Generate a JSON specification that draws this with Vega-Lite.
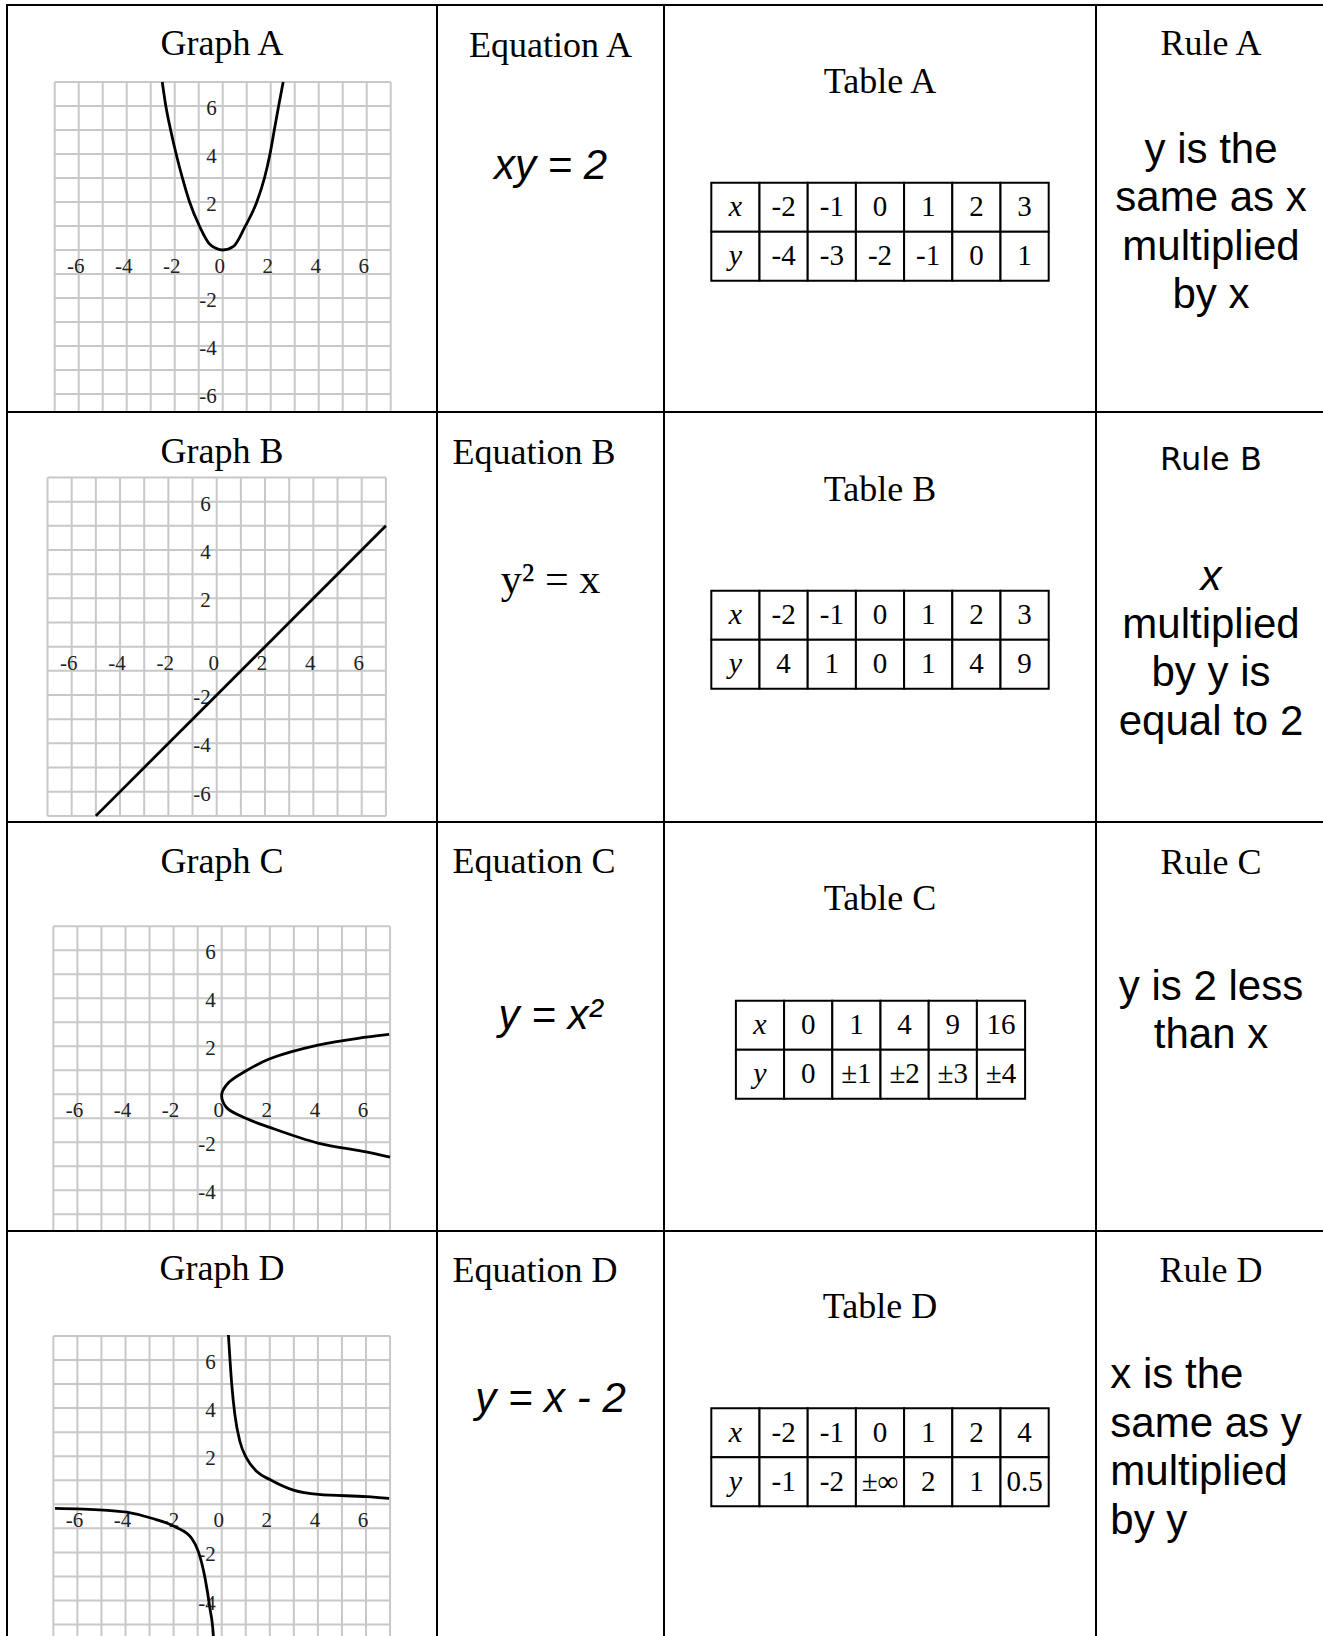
{
  "$schema": "https://vega.github.io/schema/vega-lite/v6.json",
  "usermeta": {"embedOptions": {"actions": false}},
  "background": "white",
  "padding": {"left": 6, "top": 4, "right": -4, "bottom": -6},
  "columns": 4,
  "spacing": 0,
  "bounds": "flush",
  "datasets": {
    "grid": [{"g":-7},{"g":-6},{"g":-5},{"g":-4},{"g":-3},{"g":-2},{"g":-1},{"g":0},{"g":1},{"g":2},{"g":3},{"g":4},{"g":5},{"g":6},{"g":7}],
    "xlab": [{"v":-6},{"v":-4},{"v":-2},{"v":0},{"v":2},{"v":4},{"v":6}],
    "ylab": [{"v":-6},{"v":-4},{"v":-2},{"v":2},{"v":4},{"v":6}],
    "ylabShort": [{"v":-4},{"v":-2},{"v":2},{"v":4},{"v":6}]
  },
  "concat": [
    {
      "width": 430, "height": 407,
      "title": {"text": "Graph A", "offset": -58},
      "layer": [
        {"data": {"name": "grid"}, "mark": {"type": "rule", "color": "#c8c8c8", "strokeWidth": 2, "clip": true},
         "encoding": {"x": {"field": "g", "type": "quantitative", "scale": {"domain": [-8.988, 8.929], "nice": false, "zero": false}},
                      "y": {"datum": -7, "type": "quantitative", "scale": {"domain": [-6.75, 10.208], "nice": false, "zero": false}},
                      "y2": {"datum": 7}}},
        {"data": {"name": "grid"}, "mark": {"type": "rule", "color": "#c8c8c8", "strokeWidth": 2, "clip": true},
         "encoding": {"y": {"field": "g", "type": "quantitative", "scale": {"domain": [-6.75, 10.208], "nice": false, "zero": false}},
                      "x": {"datum": -7, "type": "quantitative", "scale": {"domain": [-8.988, 8.929], "nice": false, "zero": false}},
                      "x2": {"datum": 7}}},
        {"data": {"name": "xlab"}, "mark": {"type": "text", "font": "Liberation Serif", "fontSize": 21, "color": "#222", "baseline": "middle", "dx": -3, "dy": 17, "clip": true},
         "encoding": {"x": {"field": "v", "type": "quantitative", "scale": {"domain": [-8.988, 8.929], "nice": false, "zero": false}},
                      "y": {"datum": 0, "type": "quantitative", "scale": {"domain": [-6.75, 10.208], "nice": false, "zero": false}},
                      "text": {"field": "v", "type": "nominal"}}},
        {"data": {"name": "ylab"}, "mark": {"type": "text", "font": "Liberation Serif", "fontSize": 21, "color": "#222", "baseline": "middle", "align": "right", "dx": -6, "dy": 3, "clip": true},
         "encoding": {"y": {"field": "v", "type": "quantitative", "scale": {"domain": [-6.75, 10.208], "nice": false, "zero": false}},
                      "x": {"datum": 0, "type": "quantitative", "scale": {"domain": [-8.988, 8.929], "nice": false, "zero": false}},
                      "text": {"field": "v", "type": "nominal"}}},
        {"data": {"values": [{"x":-2.52,"y":7.0},{"x":-2.37,"y":6.0},{"x":-2.17,"y":5.0},{"x":-1.94,"y":4.0},{"x":-1.68,"y":3.0},{"x":-1.38,"y":2.0},{"x":-0.97,"y":1.0},{"x":-0.5,"y":0.2},{"x":0,"y":0},{"x":0.45,"y":0.15},{"x":0.93,"y":0.97},{"x":1.42,"y":2.0},{"x":1.74,"y":3.0},{"x":1.97,"y":4.0},{"x":2.15,"y":5.0},{"x":2.33,"y":6.0},{"x":2.52,"y":7.0}]},
         "mark": {"type": "line", "color": "#000", "strokeWidth": 2.8, "interpolate": "monotone", "clip": true},
         "encoding": {"x": {"field": "x", "type": "quantitative", "scale": {"domain": [-8.988, 8.929], "nice": false, "zero": false}},
                      "y": {"field": "y", "type": "quantitative", "scale": {"domain": [-6.75, 10.208], "nice": false, "zero": false}}}}
      ]
    },
    {
      "width": 227, "height": 407,
      "title": {"text": "Equation A", "offset": -60.4},
      "data": {"values": [{"line": 1, "t": "xy = 2"}]},
      "mark": {"type": "text", "font": "Liberation Sans", "fontSize": 42, "fontStyle": "italic", "baseline": "alphabetic", "color": "#000"},
      "encoding": {"y": {"field": "line", "type": "quantitative", "scale": {"domain": [-2.605, 5.804], "reverse": true, "nice": false, "zero": false}},
                   "text": {"field": "t", "type": "nominal"}}
    },
    {
      "width": 432, "height": 407,
      "title": {"text": "Table A", "offset": -95.7},
      "data": {"values": [
        {"r":"x","c":0,"v":"x"},{"r":"x","c":1,"v":"-2"},{"r":"x","c":2,"v":"-1"},{"r":"x","c":3,"v":"0"},{"r":"x","c":4,"v":"1"},{"r":"x","c":5,"v":"2"},{"r":"x","c":6,"v":"3"},
        {"r":"y","c":0,"v":"y"},{"r":"y","c":1,"v":"-4"},{"r":"y","c":2,"v":"-3"},{"r":"y","c":3,"v":"-2"},{"r":"y","c":4,"v":"-1"},{"r":"y","c":5,"v":"0"},{"r":"y","c":6,"v":"1"}]},
      "encoding": {
        "x": {"field": "c", "type": "ordinal", "scale": {"type": "band", "domain": [0,1,2,3,4,5,6], "paddingInner": 0, "paddingOuter": 0, "range": [47.3, 384.7]}},
        "y": {"field": "r", "type": "ordinal", "scale": {"type": "band", "domain": ["x","y"], "paddingInner": 0, "paddingOuter": 0, "range": [177.7, 275.7]}}
      },
      "layer": [
        {"mark": {"type": "rect", "fill": "white", "stroke": "#000", "strokeWidth": 2}},
        {"transform": [{"filter": "datum.c == 0"}], "mark": {"type": "text", "font": "Liberation Serif", "fontSize": 30, "fontStyle": "italic", "baseline": "middle", "color": "#000"}, "encoding": {"text": {"field": "v", "type": "nominal"}}},
        {"transform": [{"filter": "datum.c > 0"}], "mark": {"type": "text", "font": "Liberation Serif", "fontSize": 29, "baseline": "middle", "color": "#000"}, "encoding": {"text": {"field": "v", "type": "nominal"}}}
      ]
    },
    {
      "width": 230, "height": 407,
      "title": {"text": "Rule A", "offset": -58},
      "data": {"values": [{"line":1,"t":"y is the"},{"line":2,"t":"same as x"},{"line":3,"t":"multiplied"},{"line":4,"t":"by x"}]},
      "mark": {"type": "text", "font": "Liberation Sans", "fontSize": 42, "baseline": "alphabetic", "color": "#000"},
      "encoding": {"y": {"field": "line", "type": "quantitative", "scale": {"domain": [-2.264, 6.145], "reverse": true, "nice": false, "zero": false}},
                   "text": {"field": "t", "type": "nominal"}}
    },
    {
      "width": 430, "height": 410,
      "title": {"text": "Graph B", "offset": -59},
      "layer": [
        {"data": {"name": "grid"}, "mark": {"type": "rule", "color": "#c8c8c8", "strokeWidth": 2, "clip": true},
         "encoding": {"x": {"field": "g", "type": "quantitative", "scale": {"domain": [-8.676, 9.115], "nice": false, "zero": false}},
                      "y": {"datum": -7, "type": "quantitative", "scale": {"domain": [-7.253, 9.71], "nice": false, "zero": false}},
                      "y2": {"datum": 7}}},
        {"data": {"name": "grid"}, "mark": {"type": "rule", "color": "#c8c8c8", "strokeWidth": 2, "clip": true},
         "encoding": {"y": {"field": "g", "type": "quantitative", "scale": {"domain": [-7.253, 9.71], "nice": false, "zero": false}},
                      "x": {"datum": -7, "type": "quantitative", "scale": {"domain": [-8.676, 9.115], "nice": false, "zero": false}},
                      "x2": {"datum": 7}}},
        {"data": {"name": "xlab"}, "mark": {"type": "text", "font": "Liberation Serif", "fontSize": 21, "color": "#222", "baseline": "middle", "dx": -3, "dy": 17, "clip": true},
         "encoding": {"x": {"field": "v", "type": "quantitative", "scale": {"domain": [-8.676, 9.115], "nice": false, "zero": false}},
                      "y": {"datum": 0, "type": "quantitative", "scale": {"domain": [-7.253, 9.71], "nice": false, "zero": false}},
                      "text": {"field": "v", "type": "nominal"}}},
        {"data": {"name": "ylab"}, "mark": {"type": "text", "font": "Liberation Serif", "fontSize": 21, "color": "#222", "baseline": "middle", "align": "right", "dx": -6, "dy": 3, "clip": true},
         "encoding": {"y": {"field": "v", "type": "quantitative", "scale": {"domain": [-7.253, 9.71], "nice": false, "zero": false}},
                      "x": {"datum": 0, "type": "quantitative", "scale": {"domain": [-8.676, 9.115], "nice": false, "zero": false}},
                      "text": {"field": "v", "type": "nominal"}}},
        {"data": {"values": [{"x":-5,"y":-7},{"x":7,"y":5}]},
         "mark": {"type": "line", "color": "#000", "strokeWidth": 2.8, "clip": true},
         "encoding": {"x": {"field": "x", "type": "quantitative", "scale": {"domain": [-8.676, 9.115], "nice": false, "zero": false}},
                      "y": {"field": "y", "type": "quantitative", "scale": {"domain": [-7.253, 9.71], "nice": false, "zero": false}}}}
      ]
    },
    {
      "width": 227, "height": 410,
      "title": {"text": "Equation B", "offset": -60, "anchor": "start", "dx": 15.5},
      "data": {"values": [{"line": 1, "t": "y² = x"}]},
      "mark": {"type": "text", "font": "Liberation Serif", "fontSize": 42, "baseline": "alphabetic", "color": "#000"},
      "encoding": {"y": {"field": "line", "type": "quantitative", "scale": {"domain": [-2.74, 5.731], "reverse": true, "nice": false, "zero": false}},
                   "text": {"field": "t", "type": "nominal"}}
    },
    {
      "width": 432, "height": 410,
      "title": {"text": "Table B", "offset": -96.5},
      "data": {"values": [
        {"r":"x","c":0,"v":"x"},{"r":"x","c":1,"v":"-2"},{"r":"x","c":2,"v":"-1"},{"r":"x","c":3,"v":"0"},{"r":"x","c":4,"v":"1"},{"r":"x","c":5,"v":"2"},{"r":"x","c":6,"v":"3"},
        {"r":"y","c":0,"v":"y"},{"r":"y","c":1,"v":"4"},{"r":"y","c":2,"v":"1"},{"r":"y","c":3,"v":"0"},{"r":"y","c":4,"v":"1"},{"r":"y","c":5,"v":"4"},{"r":"y","c":6,"v":"9"}]},
      "encoding": {
        "x": {"field": "c", "type": "ordinal", "scale": {"type": "band", "domain": [0,1,2,3,4,5,6], "paddingInner": 0, "paddingOuter": 0, "range": [47.3, 384.7]}},
        "y": {"field": "r", "type": "ordinal", "scale": {"type": "band", "domain": ["x","y"], "paddingInner": 0, "paddingOuter": 0, "range": [178.7, 276.7]}}
      },
      "layer": [
        {"mark": {"type": "rect", "fill": "white", "stroke": "#000", "strokeWidth": 2}},
        {"transform": [{"filter": "datum.c == 0"}], "mark": {"type": "text", "font": "Liberation Serif", "fontSize": 30, "fontStyle": "italic", "baseline": "middle", "color": "#000"}, "encoding": {"text": {"field": "v", "type": "nominal"}}},
        {"transform": [{"filter": "datum.c > 0"}], "mark": {"type": "text", "font": "Liberation Serif", "fontSize": 29, "baseline": "middle", "color": "#000"}, "encoding": {"text": {"field": "v", "type": "nominal"}}}
      ]
    },
    {
      "width": 230, "height": 410,
      "title": {"text": "Rule B", "offset": -65, "font": "DejaVu Sans", "fontSize": 32},
      "encoding": {"y": {"field": "line", "type": "quantitative", "scale": {"domain": [-2.671, 5.8], "reverse": true, "nice": false, "zero": false}},
                   "text": {"field": "t", "type": "nominal"}},
      "layer": [
        {"data": {"values": [{"line":1,"t":"x"}]},
         "mark": {"type": "text", "font": "Liberation Sans", "fontSize": 42, "fontStyle": "italic", "baseline": "alphabetic", "color": "#000"}},
        {"data": {"values": [{"line":2,"t":"multiplied"},{"line":3,"t":"by y is"},{"line":4,"t":"equal to 2"}]},
         "mark": {"type": "text", "font": "Liberation Sans", "fontSize": 42, "baseline": "alphabetic", "color": "#000"}}
      ]
    },
    {
      "width": 430, "height": 409,
      "title": {"text": "Graph C", "offset": -59},
      "layer": [
        {"data": {"name": "grid"}, "mark": {"type": "rule", "color": "#c8c8c8", "strokeWidth": 2, "clip": true},
         "encoding": {"x": {"field": "g", "type": "quantitative", "scale": {"domain": [-8.927, 8.952], "nice": false, "zero": false}},
                      "y": {"datum": -7, "type": "quantitative", "scale": {"domain": [-5.696, 11.346], "nice": false, "zero": false}},
                      "y2": {"datum": 7}}},
        {"data": {"name": "grid"}, "mark": {"type": "rule", "color": "#c8c8c8", "strokeWidth": 2, "clip": true},
         "encoding": {"y": {"field": "g", "type": "quantitative", "scale": {"domain": [-5.696, 11.346], "nice": false, "zero": false}},
                      "x": {"datum": -7, "type": "quantitative", "scale": {"domain": [-8.927, 8.952], "nice": false, "zero": false}},
                      "x2": {"datum": 7}}},
        {"data": {"name": "xlab"}, "mark": {"type": "text", "font": "Liberation Serif", "fontSize": 21, "color": "#222", "baseline": "middle", "dx": -3, "dy": 17, "clip": true},
         "encoding": {"x": {"field": "v", "type": "quantitative", "scale": {"domain": [-8.927, 8.952], "nice": false, "zero": false}},
                      "y": {"datum": 0, "type": "quantitative", "scale": {"domain": [-5.696, 11.346], "nice": false, "zero": false}},
                      "text": {"field": "v", "type": "nominal"}}},
        {"data": {"name": "ylabShort"}, "mark": {"type": "text", "font": "Liberation Serif", "fontSize": 21, "color": "#222", "baseline": "middle", "align": "right", "dx": -6, "dy": 3, "clip": true},
         "encoding": {"y": {"field": "v", "type": "quantitative", "scale": {"domain": [-5.696, 11.346], "nice": false, "zero": false}},
                      "x": {"datum": 0, "type": "quantitative", "scale": {"domain": [-8.927, 8.952], "nice": false, "zero": false}},
                      "text": {"field": "v", "type": "nominal"}}},
        {"data": {"values": [{"x":6.96,"y":2.5},{"x":6,"y":2.38},{"x":4,"y":2.05},{"x":2,"y":1.48},{"x":1,"y":0.97},{"x":0.3,"y":0.5},{"x":0,"y":0},{"x":0.2,"y":-0.55},{"x":1,"y":-1.0},{"x":2,"y":-1.38},{"x":4,"y":-2.03},{"x":6,"y":-2.4},{"x":7,"y":-2.62}]},
         "mark": {"type": "line", "color": "#000", "strokeWidth": 2.8, "interpolate": "catmull-rom", "clip": true},
         "encoding": {"x": {"field": "x", "type": "quantitative", "scale": {"domain": [-8.927, 8.952], "nice": false, "zero": false}},
                      "y": {"field": "y", "type": "quantitative", "scale": {"domain": [-5.696, 11.346], "nice": false, "zero": false}},
                      "order": {"field": "y", "type": "quantitative"}}}
      ]
    },
    {
      "width": 227, "height": 409,
      "title": {"text": "Equation C", "offset": -59.3, "anchor": "start", "dx": 15.5},
      "data": {"values": [{"line": 1, "t": "y = x²"}]},
      "mark": {"type": "text", "font": "Liberation Sans", "fontSize": 42, "fontStyle": "italic", "baseline": "alphabetic", "color": "#000"},
      "encoding": {"y": {"field": "line", "type": "quantitative", "scale": {"domain": [-3.267, 5.183], "reverse": true, "nice": false, "zero": false}},
                   "text": {"field": "t", "type": "nominal"}}
    },
    {
      "width": 432, "height": 409,
      "title": {"text": "Table C", "offset": -95.7},
      "data": {"values": [
        {"r":"x","c":0,"v":"x"},{"r":"x","c":1,"v":"0"},{"r":"x","c":2,"v":"1"},{"r":"x","c":3,"v":"4"},{"r":"x","c":4,"v":"9"},{"r":"x","c":5,"v":"16"},
        {"r":"y","c":0,"v":"y"},{"r":"y","c":1,"v":"0"},{"r":"y","c":2,"v":"±1"},{"r":"y","c":3,"v":"±2"},{"r":"y","c":4,"v":"±3"},{"r":"y","c":5,"v":"±4"}]},
      "encoding": {
        "x": {"field": "c", "type": "ordinal", "scale": {"type": "band", "domain": [0,1,2,3,4,5], "paddingInner": 0, "paddingOuter": 0, "range": [71.9, 361.1]}},
        "y": {"field": "r", "type": "ordinal", "scale": {"type": "band", "domain": ["x","y"], "paddingInner": 0, "paddingOuter": 0, "range": [178.7, 276.7]}}
      },
      "layer": [
        {"mark": {"type": "rect", "fill": "white", "stroke": "#000", "strokeWidth": 2}},
        {"transform": [{"filter": "datum.c == 0"}], "mark": {"type": "text", "font": "Liberation Serif", "fontSize": 30, "fontStyle": "italic", "baseline": "middle", "color": "#000"}, "encoding": {"text": {"field": "v", "type": "nominal"}}},
        {"transform": [{"filter": "datum.c > 0"}], "mark": {"type": "text", "font": "Liberation Serif", "fontSize": 29, "baseline": "middle", "color": "#000"}, "encoding": {"text": {"field": "v", "type": "nominal"}}}
      ]
    },
    {
      "width": 230, "height": 409,
      "title": {"text": "Rule C", "offset": -60},
      "data": {"values": [{"line":1,"t":"y is 2 less"},{"line":2,"t":"than x"}]},
      "mark": {"type": "text", "font": "Liberation Sans", "fontSize": 42, "baseline": "alphabetic", "color": "#000"},
      "encoding": {"y": {"field": "line", "type": "quantitative", "scale": {"domain": [-2.671, 5.779], "reverse": true, "nice": false, "zero": false}},
                   "text": {"field": "t", "type": "nominal"}}
    },
    {
      "width": 430, "height": 410,
      "title": {"text": "Graph D", "offset": -57},
      "layer": [
        {"data": {"name": "grid"}, "mark": {"type": "rule", "color": "#c8c8c8", "strokeWidth": 2, "clip": true},
         "encoding": {"x": {"field": "g", "type": "quantitative", "scale": {"domain": [-8.927, 8.952], "nice": false, "zero": false}},
                      "y": {"datum": -7, "type": "quantitative", "scale": {"domain": [-5.684, 11.364], "nice": false, "zero": false}},
                      "y2": {"datum": 7}}},
        {"data": {"name": "grid"}, "mark": {"type": "rule", "color": "#c8c8c8", "strokeWidth": 2, "clip": true},
         "encoding": {"y": {"field": "g", "type": "quantitative", "scale": {"domain": [-5.684, 11.364], "nice": false, "zero": false}},
                      "x": {"datum": -7, "type": "quantitative", "scale": {"domain": [-8.927, 8.952], "nice": false, "zero": false}},
                      "x2": {"datum": 7}}},
        {"data": {"name": "xlab"}, "mark": {"type": "text", "font": "Liberation Serif", "fontSize": 21, "color": "#222", "baseline": "middle", "dx": -3, "dy": 17, "clip": true},
         "encoding": {"x": {"field": "v", "type": "quantitative", "scale": {"domain": [-8.927, 8.952], "nice": false, "zero": false}},
                      "y": {"datum": 0, "type": "quantitative", "scale": {"domain": [-5.684, 11.364], "nice": false, "zero": false}},
                      "text": {"field": "v", "type": "nominal"}}},
        {"data": {"name": "ylabShort"}, "mark": {"type": "text", "font": "Liberation Serif", "fontSize": 21, "color": "#222", "baseline": "middle", "align": "right", "dx": -6, "dy": 3, "clip": true},
         "encoding": {"y": {"field": "v", "type": "quantitative", "scale": {"domain": [-5.684, 11.364], "nice": false, "zero": false}},
                      "x": {"datum": 0, "type": "quantitative", "scale": {"domain": [-8.927, 8.952], "nice": false, "zero": false}},
                      "text": {"field": "v", "type": "nominal"}}},
        {"data": {"values": [
           {"b":"R","x":0.28,"y":7.04},{"b":"R","x":0.42,"y":4.96},{"b":"R","x":0.55,"y":3.71},{"b":"R","x":0.76,"y":2.6},{"b":"R","x":1.04,"y":1.91},{"b":"R","x":1.46,"y":1.36},{"b":"R","x":2.04,"y":1.01},{"b":"R","x":2.98,"y":0.59},{"b":"R","x":4.02,"y":0.41},{"b":"R","x":6.03,"y":0.32},{"b":"R","x":6.96,"y":0.25},
           {"b":"L","x":-6.93,"y":-0.17},{"b":"L","x":-4.92,"y":-0.24},{"b":"L","x":-3.95,"y":-0.33},{"b":"L","x":-2.91,"y":-0.58},{"b":"L","x":-1.94,"y":-0.93},{"b":"L","x":-1.25,"y":-1.41},{"b":"L","x":-0.97,"y":-1.97},{"b":"L","x":-0.69,"y":-3.08},{"b":"L","x":-0.49,"y":-4.32},{"b":"L","x":-0.35,"y":-5.43},{"b":"L","x":-0.29,"y":-6.9}]},
         "mark": {"type": "line", "color": "#000", "strokeWidth": 2.8, "interpolate": "monotone", "clip": true},
         "encoding": {"x": {"field": "x", "type": "quantitative", "scale": {"domain": [-8.927, 8.952], "nice": false, "zero": false}},
                      "y": {"field": "y", "type": "quantitative", "scale": {"domain": [-5.684, 11.364], "nice": false, "zero": false}},
                      "detail": {"field": "b", "type": "nominal"}}}
      ]
    },
    {
      "width": 227, "height": 410,
      "title": {"text": "Equation D", "offset": -58.5, "anchor": "start", "dx": 15.5},
      "data": {"values": [{"line": 1, "t": "y = x - 2"}]},
      "mark": {"type": "text", "font": "Liberation Sans", "fontSize": 42, "fontStyle": "italic", "baseline": "alphabetic", "color": "#000"},
      "encoding": {"y": {"field": "line", "type": "quantitative", "scale": {"domain": [-2.74, 5.731], "reverse": true, "nice": false, "zero": false}},
                   "text": {"field": "t", "type": "nominal"}}
    },
    {
      "width": 432, "height": 410,
      "title": {"text": "Table D", "offset": -95.3},
      "data": {"values": [
        {"r":"x","c":0,"v":"x"},{"r":"x","c":1,"v":"-2"},{"r":"x","c":2,"v":"-1"},{"r":"x","c":3,"v":"0"},{"r":"x","c":4,"v":"1"},{"r":"x","c":5,"v":"2"},{"r":"x","c":6,"v":"4"},
        {"r":"y","c":0,"v":"y"},{"r":"y","c":1,"v":"-1"},{"r":"y","c":2,"v":"-2"},{"r":"y","c":3,"v":"±∞"},{"r":"y","c":4,"v":"2"},{"r":"y","c":5,"v":"1"},{"r":"y","c":6,"v":"0.5"}]},
      "encoding": {
        "x": {"field": "c", "type": "ordinal", "scale": {"type": "band", "domain": [0,1,2,3,4,5,6], "paddingInner": 0, "paddingOuter": 0, "range": [47.3, 384.7]}},
        "y": {"field": "r", "type": "ordinal", "scale": {"type": "band", "domain": ["x","y"], "paddingInner": 0, "paddingOuter": 0, "range": [177.3, 275.3]}}
      },
      "layer": [
        {"mark": {"type": "rect", "fill": "white", "stroke": "#000", "strokeWidth": 2}},
        {"transform": [{"filter": "datum.c == 0"}], "mark": {"type": "text", "font": "Liberation Serif", "fontSize": 30, "fontStyle": "italic", "baseline": "middle", "color": "#000"}, "encoding": {"text": {"field": "v", "type": "nominal"}}},
        {"transform": [{"filter": "datum.c > 0"}], "mark": {"type": "text", "font": "Liberation Serif", "fontSize": 29, "baseline": "middle", "color": "#000"}, "encoding": {"text": {"field": "v", "type": "nominal"}}}
      ]
    },
    {
      "width": 230, "height": 410,
      "title": {"text": "Rule D", "offset": -58.7},
      "data": {"values": [{"line":1,"t":"x is the"},{"line":2,"t":"same as y"},{"line":3,"t":"multiplied"},{"line":4,"t":"by y"}]},
      "mark": {"type": "text", "font": "Liberation Sans", "fontSize": 42, "baseline": "alphabetic", "align": "left", "dx": -100.7, "color": "#000"},
      "encoding": {"y": {"field": "line", "type": "quantitative", "scale": {"domain": [-2.25, 6.221], "reverse": true, "nice": false, "zero": false}},
                   "text": {"field": "t", "type": "nominal"}}
    }
  ],
  "config": {
    "view": {"stroke": "#000", "strokeWidth": 2},
    "axis": {"disable": true},
    "mark": {"color": "#000"},
    "title": {"font": "Liberation Serif", "fontSize": 36, "fontWeight": "normal", "color": "#000", "frame": "group", "anchor": "middle"}
  }
}
